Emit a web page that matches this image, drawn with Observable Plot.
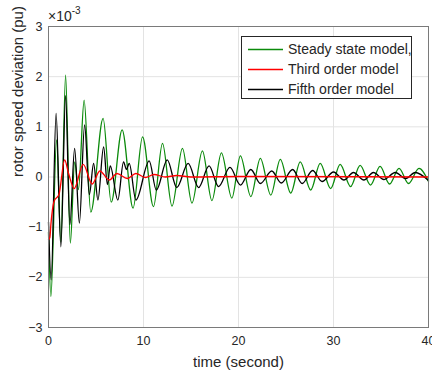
<!DOCTYPE html>
<html><head><meta charset="utf-8">
<script src="https://cdn.jsdelivr.net/npm/d3@7"></script>
<script src="https://cdn.jsdelivr.net/npm/@observablehq/plot@0.6"></script>
<style>
body{margin:0;background:#fff;}
#wrap{width:432px;height:373px;}
</style>
</head><body><div id="wrap"></div>
<script>
// values in units of 1e-3 pu
const xTicks = [0, 10, 20, 30, 40];
const yTicks = [-3, -2, -1, 0, 1, 2, 3];
const xLabel = "time (second)";
const yLabel = "rotor speed deviation (pu)";
const seriesNames = ["Steady state model,", "Third order model", "Fifth order model"];
const seriesColors = ["#0b8a0b", "#ff0000", "#000000"];

const greenT = [0,0.25,0.85,1.3,1.8,2.3,2.75,3.15,3.75,4.45,5.75,6.6,7.75,8.9,9.9,11.05,12.0,13.0,14.1,15.1,16.2,17.2,18.2,19.3,20.2,21.3,22.3,23.4,24.4,25.5,26.5,27.6,28.6,29.7,30.7,31.8,32.8,33.9,34.9,35.9,36.9,37.9,39.0,40];
const greenV = [-1.1,-2.38,0.74,-1.3,2.03,-1.32,0.3,-0.25,1.53,-0.7,1.17,-0.5,0.94,-0.62,0.8,-0.59,0.67,-0.58,0.57,-0.52,0.52,-0.47,0.48,-0.42,0.42,-0.39,0.37,-0.36,0.35,-0.32,0.3,-0.26,0.27,-0.23,0.25,-0.19,0.23,-0.16,0.21,-0.14,0.17,-0.13,0.17,-0.09];

const redT = [0,0.15,0.25,0.6,1.1,1.7,2.1,2.7,3.65,4.6,5.4,6.4,7.2,8.3,9.2,10.2,11.1,12.3,13.5,15,20,40];
const redV = [-1.25,-1.2,-0.95,-0.48,-0.35,0.34,0.08,-0.23,0.25,-0.14,0.12,-0.06,0.07,-0.03,0.07,-0.01,0.05,0.0,0.03,0.0,0.01,0.0];

const blackT = [0,0.28,0.8,1.3,1.8,2.25,2.75,3.25,3.8,4.3,4.75,5.2,5.8,6.2,6.5,7.3,7.9,8.2,8.5,9.2,10.6,11.35,12.5,13.5,14.7,15.8,16.9,17.9,19.1,20.2,21.3,22.3,23.5,24.5,25.7,26.7,27.8,28.8,30.0,31.1,32.1,33.2,34.2,35.3,36.5,37.6,38.6,40];
const blackV = [-0.9,-2.05,1.27,-1.39,1.62,-0.95,0.57,-0.92,1.04,-0.35,0.27,-0.46,0.6,-0.15,0.22,-0.46,0.3,0.15,0.27,-0.46,0.32,-0.26,0.34,-0.21,0.27,-0.21,0.22,-0.19,0.19,-0.16,0.15,-0.13,0.12,-0.12,0.15,-0.13,0.13,-0.09,0.1,-0.06,0.09,-0.06,0.09,-0.05,0.09,-0.03,0.09,-0.07];

const toRows = (T, V) => T.map((t, i) => ({t, v: V[i]}));
const green = toRows(greenT, greenV);
const red = toRows(redT, redV);
const black = toRows(blackT, blackV);

const font = '"Liberation Sans", Arial, Helvetica, sans-serif';
const ink = "#262626";
const lw = 1.3;

const chart = Plot.plot({
  width: 432, height: 373,
  marginLeft: 48, marginRight: 4, marginTop: 26, marginBottom: 46,
  style: {fontFamily: font, fontSize: "12px", color: ink, background: "#fff"},
  x: {domain: [0, 40], ticks: xTicks, label: null},
  y: {domain: [-3, 3], ticks: yTicks, label: null},
  marks: [
    Plot.gridX(xTicks, {stroke: "#e3e3e3", strokeOpacity: 1}),
    Plot.gridY(yTicks, {stroke: "#e3e3e3", strokeOpacity: 1}),
    Plot.line(green, {x: "t", y: "v", stroke: seriesColors[0], strokeWidth: lw, curve: "monotone-x"}),
    Plot.line(black, {x: "t", y: "v", stroke: seriesColors[2], strokeWidth: lw, curve: "monotone-x"}),
    Plot.line(red, {x: "t", y: "v", stroke: seriesColors[1], strokeWidth: lw, curve: "monotone-x"}),
    Plot.frame({stroke: "#7a7a7a"}),
    Plot.axisX(xTicks, {tickSize: 0, tickPadding: 9, fontSize: 12.5, fill: ink, label: null, tickFormat: d3.format("d")}),
    Plot.axisY(yTicks, {tickSize: 0, tickPadding: 6, fontSize: 12.5, fill: ink, label: null, tickFormat: d3.format("d")}),
    Plot.text([xLabel], {frameAnchor: "bottom", dy: 39, fontSize: 15, fill: ink}),
    Plot.text([yLabel], {frameAnchor: "left", dx: -30, rotate: -90, fontSize: 15, fill: ink})
  ]
});

document.getElementById("wrap").appendChild(chart);

const svg = d3.select(chart);
const x0 = chart.scale("x").apply(0);
const yTop = chart.scale("y").apply(3);
// exponent label
const ex = svg.append("text").attr("x", x0).attr("y", yTop - 5).attr("font-size", 14)
  .attr("fill", ink).attr("text-anchor", "start");
ex.append("tspan").text("\u00d710");
ex.append("tspan").attr("font-size", 10).attr("dy", -7).text("-3");

// legend
const lg = svg.append("g").attr("text-anchor", "start");
lg.append("rect").attr("x", 241.5).attr("y", 36.5).attr("width", 170).attr("height", 62)
  .attr("fill", "#fff").attr("stroke", ink);
seriesNames.forEach((name, i) => {
  const y = 49.5 + i * 20;
  lg.append("line").attr("x1", 248).attr("x2", 283).attr("y1", y).attr("y2", y)
    .attr("stroke", seriesColors[i]).attr("stroke-width", lw);
  lg.append("text").attr("x", 288).attr("y", y).attr("dy", "0.35em")
    .attr("text-anchor", "start").attr("font-size", 14).attr("fill", ink).text(name);
});
</script>
</body></html>
